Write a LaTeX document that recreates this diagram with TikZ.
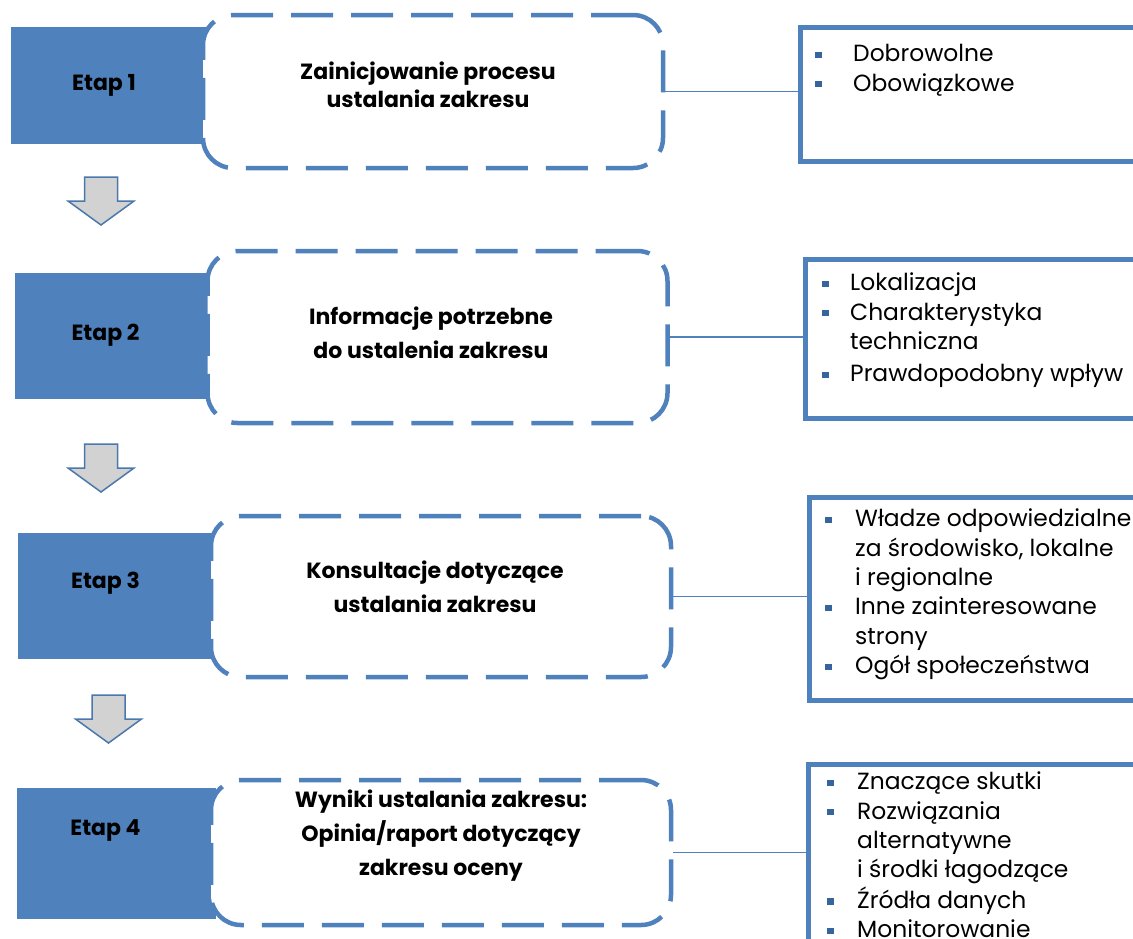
\documentclass[tikz,border=0pt]{standalone}
\usepackage{fontspec}
\setmainfont{Poppins}
\usepackage{tikz}
\usetikzlibrary{
    arrows.meta,
    positioning
}
\usepackage{xcolor}
\definecolor{etapblue}{HTML}{4F81BD}
\definecolor{arrowgray}{HTML}{D3D2D3}
\definecolor{arrowline}{HTML}{4A78AC}
\definecolor{bulletblue}{HTML}{35659C}
\newcommand{\bul}{\textcolor{bulletblue}{\rule[0.16em]{6.5pt}{6.5pt}}}
\newcommand{\krokarrow}[1]{%
    \draw[krok] ([shift={(-16.5,0)}]#1) -- ([shift={(16.5,0)}]#1)
        -- ([shift={(16.5,24)}]#1) -- ([shift={(33,24)}]#1)
        -- ([shift={(0,48)}]#1) -- ([shift={(-33,24)}]#1)
        -- ([shift={(-16.5,24)}]#1) -- cycle;}

\begin{document}
\begin{tikzpicture}[
        x=1pt, y=-1pt,
        etap/.style={
            rectangle,
            fill=etapblue,
            inner sep=0pt
        },
        etaptxt/.style={
            inner sep=0pt,
            font=\fontsize{22}{26}\selectfont\bfseries
        },
        opis/.style={
            rectangle,
            rounded corners=30pt,
            draw=etapblue,
            fill=white,
            line width=4.5pt,
            dash pattern=on 42pt off 18pt,
            minimum width=460pt,
            inner sep=0pt
        },
        opistxt/.style={
            align=center,
            inner sep=0pt,
            font=\fontsize{22}{34}\selectfont\bfseries
        },
        lista/.style={
            rectangle,
            draw=etapblue,
            line width=4.5pt,
            minimum width=360pt,
            anchor=north west,
            inner sep=0pt
        },
        listatxt/.style={
            anchor=north west,
            inner sep=0pt,
            align=left,
            font=\fontsize{23.4}{29.4}\selectfont
        },
        krok/.style={
            fill=arrowgray,
            draw=arrowline,
            line width=1.5pt,
            line join=miter
        },
        link/.style={draw=etapblue, line width=1.5pt}
    ]
        \clip (0,0) rectangle (1133,938);

        \node[etap, minimum width=197pt, minimum height=117pt] (e1) at (109.5,85.5) {};
        \node[etap, minimum width=197pt, minimum height=126pt] (e2) at (113.5,336) {};
        \node[etap, minimum width=198pt, minimum height=126pt] (e3) at (117,596) {};
        \node[etap, minimum width=199pt, minimum height=131pt] (e4) at (116.5,853.5) {};
        \node[etaptxt] (l1) at (104,85) {Etap 1};
        \node[etaptxt] (l2) at (105.5,335) {Etap 2};
        \node[etaptxt] (l3) at (105.5,583) {Etap 3};
        \node[etaptxt] (l4) at (105.5,830) {Etap 4};

        \node[opis, minimum height=153pt] (d1) at (433,91.5) {};
        \node[opis, minimum height=172pt] (d2) at (437.5,337) {};
        \node[opis, minimum height=161pt] (d3) at (441,596.5) {};
        \node[opis, minimum height=145pt] (d4) at (441,852.5) {};
        \node[opistxt, font=\fontsize{22}{28}\selectfont\bfseries] (o1) at (428,85)
            {Zainicjowanie procesu\\ustalania zakresu};
        \node[opistxt] (o2) at (431,333)
            {Informacje potrzebne\\do ustalenia zakresu};
        \node[opistxt] (o3) at (435,586.5)
            {Konsultacje dotyczące\\ustalania zakresu};
        \node[opistxt] (o4) at (441,836)
            {Wyniki ustalania zakresu:\\Opinia/raport dotyczący\\zakresu oceny};

        \coordinate (a1) at (101,177);
        \coordinate (a2) at (101,444);
        \coordinate (a3) at (108.5,695);
        \krokarrow{a1}
        \krokarrow{a2}
        \krokarrow{a3}

        \node[lista, minimum height=134pt] (r1) at (798,25) {};
        \node[lista, minimum height=159pt] (r2) at (803,257) {};
        \node[lista, minimum height=203pt] (r3) at (807,495) {};
        \node[lista, minimum height=180pt] (r4) at (806,762) {};

        \draw[link] (d1.east) -- (d1.east -| r1.west);
        \draw[link] (d2.east) -- (d2.east -| r2.west);
        \draw[link] (d3.east) -- (d3.east -| r3.west);
        \draw[link] (d4.east) -- (d4.east -| r4.west);

        \node[listatxt] (t1) at (815,41) {%
            \begin{tabular}{@{}p{38pt}@{}l@{}}
                \bul & Dobrowolne\\
                \bul & Obowiązkowe
            \end{tabular}};
        \node[listatxt] (t2) at (822,270) {%
            \begin{tabular}{@{}p{28pt}@{}l@{}}
                \bul & Lokalizacja\\
                \bul & Charakterystyka\\
                     & techniczna\\[3pt]
                \bul & Prawdopodobny wpływ
            \end{tabular}};
        \node[listatxt] (t3) at (825,506) {%
            \begin{tabular}{@{}p{30pt}@{}l@{}}
                \bul & Władze odpowiedzialne\\
                     & za środowisko, lokalne\\
                     & i regionalne\\
                \bul & Inne zainteresowane\\
                     & strony\\
                \bul & Ogół społeczeństwa
            \end{tabular}};
        \node[listatxt] (t4) at (827,769) {%
            \begin{tabular}{@{}p{30pt}@{}l@{}}
                \bul & Znaczące skutki\\
                \bul & Rozwiązania\\
                     & alternatywne\\
                     & i środki łagodzące\\
                \bul & Źródła danych\\
                \bul & Monitorowanie
            \end{tabular}};
    \end{tikzpicture}
\end{document}
